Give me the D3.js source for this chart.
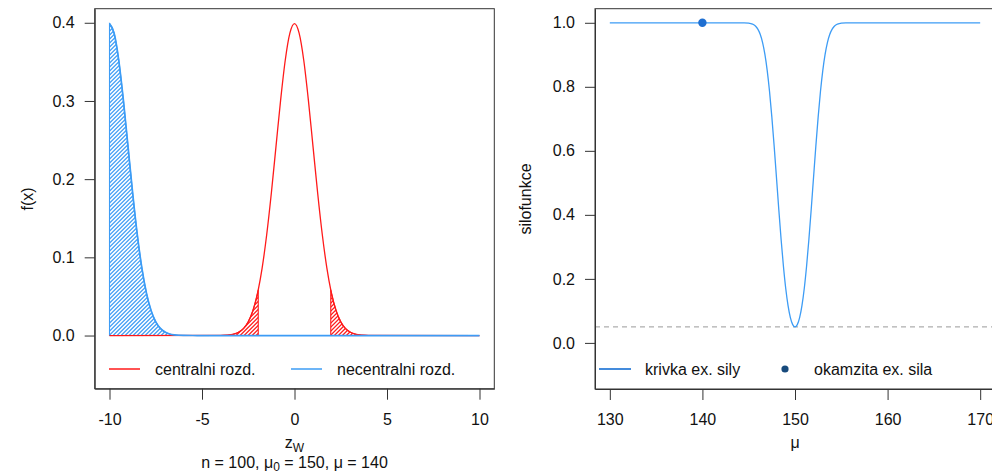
<!DOCTYPE html>
<html><head><meta charset="utf-8">
<script src="https://cdn.jsdelivr.net/npm/d3@7"></script>
<style>
html,body{margin:0;padding:0;background:#fff;}
svg{display:block;font-family:"Liberation Sans",Arial,sans-serif;}
</style></head>
<body>
<svg id="c" width="992" height="473"></svg>
<script>
// ---------- data ----------
// central (H0) standard normal density, sampled
const centralX = [-10,-4,-3.75,-3.5,-3.25,-3,-2.75,-2.5,-2.25,-2,-1.96,-1.75,-1.5,-1.25,-1,-0.75,-0.5,-0.25,0,0.25,0.5,0.75,1,1.25,1.5,1.75,1.96,2,2.25,2.5,2.75,3,3.25,3.5,3.75,4,10];
const centralY = [0,0.000134,0.000353,0.000873,0.002029,0.004432,0.009094,0.017528,0.031740,0.053991,0.058441,0.086277,0.129518,0.182649,0.241971,0.301137,0.352065,0.386668,0.398942,0.386668,0.352065,0.301137,0.241971,0.182649,0.129518,0.086277,0.058441,0.053991,0.031740,0.017528,0.009094,0.004432,0.002029,0.000873,0.000353,0.000134,0];
// noncentral density (mu = 140 -> shift -10), sampled
const noncentralX = [-10,-9.75,-9.5,-9.25,-9,-8.75,-8.5,-8.25,-8,-7.75,-7.5,-7.25,-7,-6.75,-6.5,-6.25,-6,-5.5,-5,-1.96,10];
const noncentralY = [0.398942,0.386668,0.352065,0.301137,0.241971,0.182649,0.129518,0.086277,0.053991,0.031740,0.017528,0.009094,0.004432,0.002029,0.000873,0.000353,0.000134,0.000016,0.000001,0,0];
// power function
const muVals = [130,144,144.5,145,145.25,145.5,145.75,146,146.25,146.5,146.75,147,147.25,147.5,147.75,148,148.25,148.5,148.75,149,149.25,149.5,149.75,150,150.25,150.5,150.75,151,151.25,151.5,151.75,152,152.25,152.5,152.75,153,153.25,153.5,153.75,154,154.25,154.5,154.75,155,155.5,156,170];
const powerVals = [1,1,0.9998,0.9988,0.9970,0.9945,0.9890,0.9793,0.9633,0.9382,0.9015,0.8508,0.7852,0.7054,0.6141,0.5160,0.4169,0.3231,0.2396,0.1700,0.1165,0.0790,0.0572,0.05,0.0572,0.0790,0.1165,0.1700,0.2396,0.3231,0.4169,0.5160,0.6141,0.7054,0.7852,0.8508,0.9015,0.9382,0.9633,0.9793,0.9890,0.9945,0.9970,0.9988,0.9998,1,1];
const currentMu = [140];
const currentPower = [1];
const alphaLevel = [0.05];
const leftXTicks = [-10,-5,0,5,10];
const leftYTicks = [0,0.1,0.2,0.3,0.4];
const rightXTicks = [130,140,150,160,170];
const rightYTicks = [0,0.2,0.4,0.6,0.8,1.0];
const critical = [1.96];

// ---------- setup ----------
const svg = d3.select("#c");
const RED = "#ff1a1a", BLUE = "#3d9cf5", AX = "#333";
const defs = svg.append("defs");
const fmtInt = d => String(d);
const fmt1 = d => d.toFixed(1);

// ---------- left panel ----------
const xL = d3.scaleLinear().domain([-10.8,10.8]).range([94.7,494.3]);
const yL = d3.scaleLinear().domain([-0.068,0.418]).range([388.7,8.7]);
const pts = (X,Y)=>X.map((x,i)=>[x,Y[i]]);
const cen = pts(centralX, centralY), non = pts(noncentralX, noncentralY);
const lineL = d3.line().x(d=>xL(d[0])).y(d=>yL(d[1])).curve(d3.curveMonotoneX);
const areaL = d3.area().x(d=>xL(d[0])).y0(yL(0)).y1(d=>yL(d[1])).curve(d3.curveMonotoneX);

const c = critical[0];
const cenLeft = cen.filter(d=>d[0]>=-4.2 && d[0]<=-c);
const cenRight = cen.filter(d=>d[0]>=c && d[0]<=4.2);
const nonLeft = non.filter(d=>d[0]<=-c);

const gL = svg.append("g");
let hid = 0;
function hatchArea(g, data, col){
  const id = "clip"+(hid++);
  const dPath = areaL(data);
  defs.append("clipPath").attr("id",id).append("path").attr("d",dPath);
  const x0 = xL(data[0][0]), x1 = xL(data[data.length-1][0]);
  const yb = yL(0), yt = yL(0.42);
  const h = yb - yt;
  const hg = g.append("g").attr("clip-path","url(#"+id+")");
  for(let x = x0 - h; x <= x1 + 4; x += 4){
    hg.append("line").attr("x1",x).attr("y1",yb).attr("x2",x+h).attr("y2",yb-h)
      .attr("stroke",col).attr("stroke-width",1.15);
  }
  g.append("path").attr("d",dPath).attr("fill","none").attr("stroke",col).attr("stroke-width",1.1);
}
hatchArea(gL, cenLeft, RED);
hatchArea(gL, cenRight, RED);
hatchArea(gL, nonLeft, BLUE);
gL.append("path").attr("d",lineL(cen)).attr("fill","none").attr("stroke",RED).attr("stroke-width",1.3);
gL.append("path").attr("d",lineL(non)).attr("fill","none").attr("stroke",BLUE).attr("stroke-width",1.7);

// box
svg.append("rect").attr("x",94.7).attr("y",8.7).attr("width",494.3-94.7).attr("height",388.7-8.7)
  .attr("fill","none").attr("stroke",AX).attr("stroke-width",1);
// axes
svg.append("g").attr("transform","translate(0,388.7)")
  .call(d3.axisBottom(xL).tickValues(leftXTicks).tickSize(11).tickSizeOuter(0).tickPadding(14).tickFormat(fmtInt));
svg.append("g").attr("transform","translate(94.7,0)")
  .call(d3.axisLeft(yL).tickValues(leftYTicks).tickSize(10).tickSizeOuter(0).tickPadding(10).tickFormat(fmt1));

// legend left
const legY = 369;
svg.append("line").attr("x1",109).attr("x2",140).attr("y1",legY).attr("y2",legY).attr("stroke",RED).attr("stroke-width",1.5);
svg.append("text").attr("x",155).attr("y",legY+6).text("centralni rozd.");
svg.append("line").attr("x1",291).attr("x2",322).attr("y1",legY).attr("y2",legY).attr("stroke",BLUE).attr("stroke-width",1.5);
svg.append("text").attr("x",337).attr("y",legY+6).text("necentralni rozd.");

// labels left
const xl = svg.append("text").attr("x",294.5).attr("y",448).attr("text-anchor","middle");
xl.append("tspan").text("z");
xl.append("tspan").attr("font-size","12px").attr("dy",4).text("W");
const st = svg.append("text").attr("x",294.5).attr("y",468).attr("text-anchor","middle");
st.append("tspan").text("n = 100, μ");
st.append("tspan").attr("font-size","12px").attr("dy",3).text("0");
st.append("tspan").attr("dy",-3).text(" = 150, μ = 140");
svg.append("text").attr("transform","translate(33,199) rotate(-90)").attr("text-anchor","middle").text("f(x)");

// ---------- right panel ----------
const xR = d3.scaleLinear().domain([128.4,171.6]).range([595,995]);
const yR = d3.scaleLinear().domain([-0.144,1.044]).range([389,8.7]);
const pw = pts(muVals, powerVals);
svg.append("line").attr("x1",595).attr("x2",995).attr("y1",yR(alphaLevel[0])).attr("y2",yR(alphaLevel[0]))
  .attr("stroke","#999").attr("stroke-dasharray","5,4").attr("stroke-width",1);
svg.append("path").attr("d",d3.line().x(d=>xR(d[0])).y(d=>yR(d[1])).curve(d3.curveMonotoneX)(pw))
  .attr("fill","none").attr("stroke",BLUE).attr("stroke-width",1.3);
svg.selectAll(".pt").data(currentMu).enter().append("circle")
  .attr("cx",(d)=>xR(d)).attr("cy",(d,i)=>yR(currentPower[i])).attr("r",4.2).attr("fill","#1f6fd1");
svg.append("rect").attr("x",595).attr("y",8.7).attr("width",400).attr("height",389-8.7)
  .attr("fill","none").attr("stroke",AX).attr("stroke-width",1);
svg.append("g").attr("transform","translate(0,389)")
  .call(d3.axisBottom(xR).tickValues(rightXTicks).tickSize(11).tickSizeOuter(0).tickPadding(14).tickFormat(fmtInt));
svg.append("g").attr("transform","translate(595,0)")
  .call(d3.axisLeft(yR).tickValues(rightYTicks).tickSize(10).tickSizeOuter(0).tickPadding(10).tickFormat(fmt1));

// legend right
svg.append("line").attr("x1",599).attr("x2",631).attr("y1",legY).attr("y2",legY).attr("stroke","#2f7ed8").attr("stroke-width",1.8);
svg.append("text").attr("x",645).attr("y",legY+6).text("krivka ex. sily");
svg.append("circle").attr("cx",785).attr("cy",legY).attr("r",3.6).attr("fill","#174a7c");
svg.append("text").attr("x",814).attr("y",legY+6).text("okamzita ex. sila");

svg.append("text").attr("x",795).attr("y",448).attr("text-anchor","middle").text("μ");
svg.append("text").attr("transform","translate(531,199) rotate(-90)").attr("text-anchor","middle").text("silofunkce");

// styling
svg.selectAll("text").attr("font-size", function(){ return this.getAttribute("font-size") || "16px"; }).attr("fill","#111");
svg.selectAll(".domain").attr("stroke",AX);
svg.selectAll(".tick line").attr("stroke",AX);
svg.selectAll(".tick text").attr("font-size","16px").attr("fill","#111").attr("font-family","'Liberation Sans',Arial,sans-serif");
</script>
</body></html>
